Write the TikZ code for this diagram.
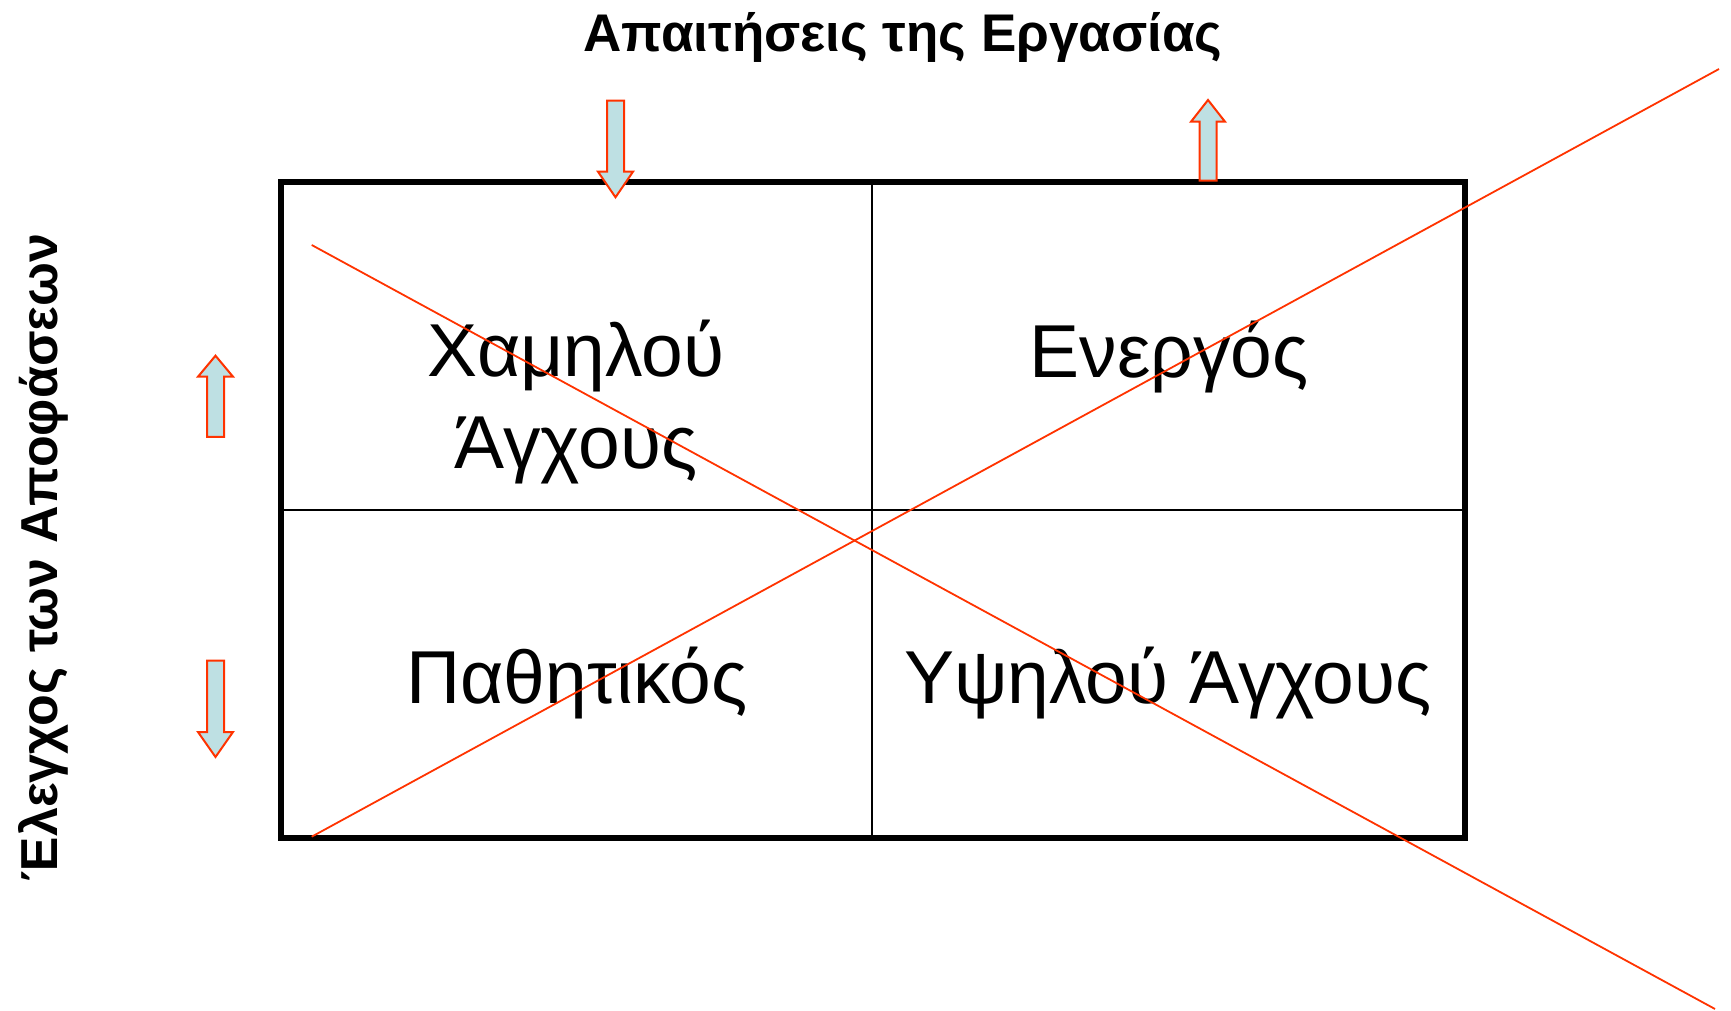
\documentclass[tikz,border=0pt]{standalone}
\usepackage{fontspec}
\setmainfont{Liberation Sans}
\definecolor{arrfill}{HTML}{BEE0E3}
\definecolor{arrline}{HTML}{FF3300}
\begin{document}
\begin{tikzpicture}[x=1pt,y=1pt,
  frame/.style={line width=6pt},
  divider/.style={line width=2pt},
  cross/.style={draw=arrline,line width=1.8pt},
  blockarrow/.style={fill=arrfill,draw=arrline,line width=2pt,line join=miter},
  celltext/.style={font=\fontsize{75}{92}\selectfont,align=center,anchor=base,inner sep=0pt},
  axistext/.style={font=\fontsize{53}{60}\selectfont\bfseries,anchor=base,inner sep=0pt}]
\useasboundingbox (0,0) rectangle (1731,1010);
% grid
\coordinate (tl) at (281,828);
\coordinate (br) at (1465,172);
\coordinate (mt) at (872,828);
\coordinate (mb) at (872,172);
\coordinate (ml) at (281,500);
\coordinate (mr) at (1465,500);
\draw[divider] (mt) -- (mb);
\draw[divider] (ml) -- (mr);
\draw[frame] (tl) rectangle (br);
% texts
\node[axistext] (title) at (903,958) {Απαιτήσεις της Εργασίας};
\node[axistext,font=\fontsize{52}{60}\selectfont\bfseries,rotate=90] (side) at (57,452.5) {Έλεγχος των Αποφάσεων};
\node[celltext] (low) at (576,541) {Χαμηλού\\Άγχους};
\node[celltext] (active) at (1169,632.4) {Ενεργός};
\node[celltext] (passive) at (577,307) {Παθητικός};
\node[celltext] (high) at (1168,307) {Υψηλού Άγχους};
% crossing lines
\coordinate (c1s) at (311.7,765);
\coordinate (c1e) at (1715,1);
\coordinate (c2s) at (311.7,173.3);
\coordinate (c2e) at (1719,941);
\draw[cross] (c1s) -- (c1e);
\draw[cross] (c2s) -- (c2e);
% block arrows
\draw[blockarrow] (607,909.3) -- (624,909.3) -- (624,838.3) -- (633,838.3) -- (615.5,812.7) -- (598,838.3) -- (607,838.3) -- cycle;
\draw[blockarrow] (1199.5,829.3) -- (1216.5,829.3) -- (1216.5,888.3) -- (1225,888.3) -- (1208,910) -- (1191,888.3) -- (1199.5,888.3) -- cycle;
\draw[blockarrow] (207,573) -- (224,573) -- (224,633.3) -- (233,633.3) -- (215.5,654.3) -- (198,633.3) -- (207,633.3) -- cycle;
\draw[blockarrow] (207,349.3) -- (224,349.3) -- (224,278) -- (233,278) -- (215.5,253) -- (198,278) -- (207,278) -- cycle;
\end{tikzpicture}
\end{document}
